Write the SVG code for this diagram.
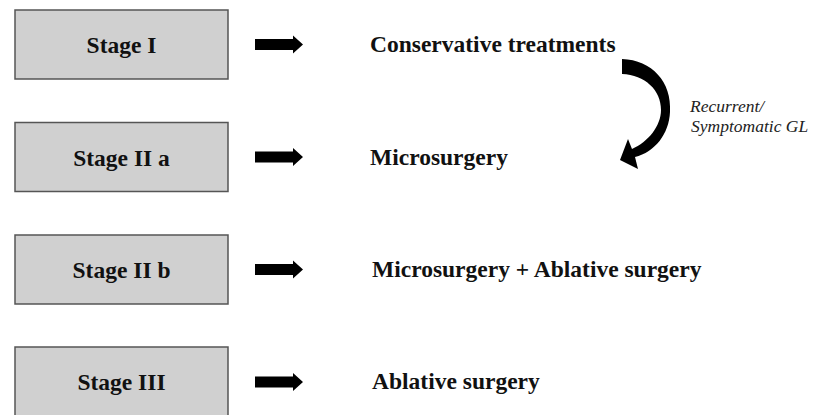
<svg xmlns="http://www.w3.org/2000/svg" width="827" height="415" viewBox="0 0 827 415">
<defs>
<style>
.box{fill:#d0d0d0;stroke:#555;stroke-width:1.5}
.lbl{font-family:"Liberation Serif",serif;font-weight:bold;font-size:23.5px;fill:#111}
.tr{font-family:"Liberation Serif",serif;font-weight:bold;font-size:23.5px;fill:#111}
.it{font-family:"Liberation Serif",serif;font-style:italic;font-size:17.5px;fill:#222}
.arr{fill:#000}
</style>
<path id="ar" d="M0 -5.5 H38 V-9 L48 0 L38 9 V5.5 H0 Z"/>
</defs>
<rect width="827" height="415" fill="#fff"/>
<g id="stage1"><rect class="box" x="15" y="10" width="213" height="69"/><text class="lbl" x="121.5" y="53" text-anchor="middle">Stage I</text></g>
<g id="stage2a"><rect class="box" x="15" y="122.5" width="213" height="69"/><text class="lbl" x="121.5" y="165.5" text-anchor="middle">Stage II a</text></g>
<g id="stage2b"><rect class="box" x="15" y="235" width="213" height="69"/><text class="lbl" x="121.5" y="278" text-anchor="middle">Stage II b</text></g>
<g id="stage3"><rect class="box" x="15" y="347" width="213" height="69"/><text class="lbl" x="121.5" y="390" text-anchor="middle">Stage III</text></g>
<g id="t1"><text class="tr" x="370" y="52">Conservative treatments</text></g>
<g id="t2"><text class="tr" x="370" y="164.5">Microsurgery</text></g>
<g id="t3"><text class="tr" x="372" y="277">Microsurgery + Ablative surgery</text></g>
<g id="t4"><text class="tr" x="372" y="389">Ablative surgery</text></g>
<g id="connectors">
<use href="#ar" class="arr" x="255" y="44.5"/>
<use href="#ar" class="arr" x="255" y="157"/>
<use href="#ar" class="arr" x="255" y="269.5"/>
<use href="#ar" class="arr" x="255" y="382"/>
<path class="arr" d="M622 59 C652 60 672 82 670 112 C669 134 655 152 635 157 L638 169 L620 160 L628 139 L632 149 C648 142 661 126 661 110 C661 90 645 75 622 74 Z"/>
<text class="it" x="690" y="112">Recurrent/</text>
<text class="it" x="691" y="132">Symptomatic GL</text>
</g>
</svg>
